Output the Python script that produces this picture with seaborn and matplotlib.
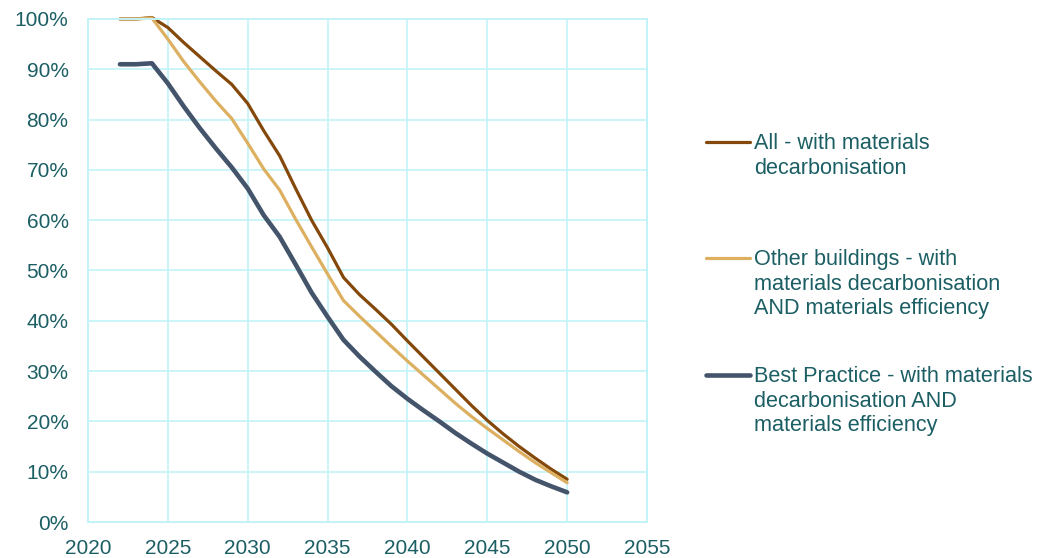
import matplotlib
matplotlib.use("Agg")
import matplotlib.pyplot as plt
from matplotlib.lines import Line2D
from matplotlib.ticker import PercentFormatter, MultipleLocator
import numpy as np
import pandas as pd
import seaborn as sns

# Embodied carbon trajectories, share of 2022 baseline (%)
years = list(range(2022, 2051))

all_decarb = [100, 100, 100.3, 98.3, 95.3, 92.5, 89.7, 87.0, 83.2, 77.8,
              72.8, 66.3, 60.0, 54.5, 48.6, 45.2, 42.3, 39.3, 36.0, 32.8,
              29.6, 26.4, 23.2, 20.2, 17.5, 15.0, 12.7, 10.5, 8.5]

other_buildings = [100, 100, 100.2, 96.0, 91.5, 87.5, 83.7, 80.2, 75.3, 70.2,
                   66.0, 60.2, 54.7, 49.3, 44.0, 40.9, 37.9, 34.9, 32.0, 29.2,
                   26.4, 23.6, 21.0, 18.6, 16.3, 14.0, 11.8, 9.8, 7.8]

best_practice = [91, 91, 91.2, 87.2, 82.6, 78.3, 74.3, 70.5, 66.3, 61.0,
                 56.7, 51.2, 45.6, 40.8, 36.2, 32.9, 29.9, 27.0, 24.5, 22.2,
                 20.0, 17.7, 15.6, 13.6, 11.8, 10.0, 8.4, 7.1, 5.9]

series_labels = [
    "All - with materials\ndecarbonisation",
    "Other buildings - with\nmaterials decarbonisation\nAND materials efficiency",
    "Best Practice - with materials\ndecarbonisation AND\nmaterials efficiency",
]
series_values = [all_decarb, other_buildings, best_practice]
series_colors = ["#84480a", "#dcb060", "#44546a"]
series_widths = [2.3, 2.3, 3.3]

x_ticks = list(range(2020, 2056, 5))

sns.set_theme(style="white")
plt.rcParams["font.family"] = ["Liberation Sans", "DejaVu Sans"]

text_color = "#1b5e63"
grid_color = "#c2f3f8"

W, H = 1040, 558
fig = plt.figure(figsize=(W / 100, H / 100), dpi=100)
ax = fig.add_axes([88 / W, 1 - 522 / H, (647 - 88) / W, (522 - 19) / H])

for label, vals, color, lw in zip(series_labels, series_values, series_colors, series_widths):
    df = pd.DataFrame({"Year": years, "Value": np.array(vals) / 100.0})
    sns.lineplot(data=df, x="Year", y="Value", ax=ax, color=color,
                 linewidth=lw, solid_capstyle="round", solid_joinstyle="round",
                 legend=False, clip_on=False)

ax.set_xlim(2020, 2055)
ax.set_ylim(0, 1.0)
ax.set_xticks(x_ticks)
ax.yaxis.set_major_locator(MultipleLocator(0.1))
ax.yaxis.set_major_formatter(PercentFormatter(1.0, decimals=0))
ax.set_xlabel("")
ax.set_ylabel("")

ax.grid(True, color=grid_color, linewidth=1.2)
ax.set_axisbelow(True)
for side in ["left", "right", "top", "bottom"]:
    ax.spines[side].set_visible(True)
    ax.spines[side].set_color(grid_color)
    ax.spines[side].set_linewidth(1.4)

ax.tick_params(axis="both", length=0, labelsize=15, labelcolor=text_color)
ax.tick_params(axis="y", pad=14)
ax.tick_params(axis="x", pad=12)

# Legend to the right of the plot, each handle level with its first text line
legend_rows = [142, 258, 375]
for label, color, lw, ypx in zip(series_labels, series_colors, series_widths, legend_rows):
    yf = 1 - ypx / H
    fig.add_artist(Line2D([706 / W, 750 / W], [yf, yf], color=color,
                          linewidth=lw, solid_capstyle="round",
                          transform=fig.transFigure))
    fig.text(754 / W, 1 - (ypx - 9) / H, label, ha="left", va="top",
             fontsize=15.6, color=text_color, linespacing=1.22,
             transform=fig.transFigure)

fig.savefig("out.png", dpi=100)
